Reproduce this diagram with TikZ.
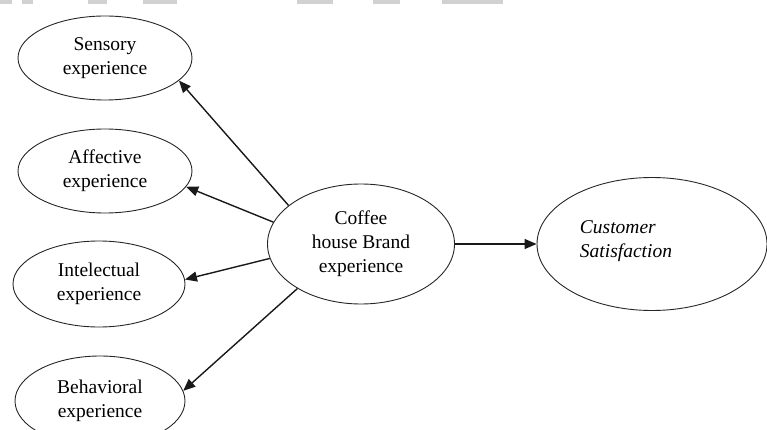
\documentclass[tikz,border=0pt]{standalone}
\usepackage{fontspec}
\setmainfont{Liberation Serif}
\usetikzlibrary{shapes.geometric,arrows.meta}

\tikzset{
  oval/.style={ellipse, draw=black!85, line width=0.9pt, inner sep=0pt,
    align=center, font=\fontsize{19.5}{24}\selectfont},
  link/.style={line width=1.4pt, draw=black!90,
    -{Triangle[length=12pt,width=10pt]}},
  smudge/.style={fill=black!18, draw=none}
}

\begin{document}
\begin{tikzpicture}[x=1pt,y=-1pt]
  \useasboundingbox (0,0) rectangle (767,430);

  % faint grey fragments along the top edge
  \fill[smudge] (0,0) rectangle (12,4.5);
  \fill[smudge] (22,0) rectangle (33,4.5);
  \fill[smudge] (88,0) rectangle (107,4.5);
  \fill[smudge] (143,0) rectangle (177,4.5);
  \fill[smudge] (297,0) rectangle (333,4.5);
  \fill[smudge] (373,0) rectangle (400,4.5);
  \fill[smudge] (442,0) rectangle (503,4.5);

  % dimension ovals
  \node[oval, minimum width=174pt, minimum height=84pt] (sens) at (105,58)
    {Sensory\\experience};
  \node[oval, minimum width=174pt, minimum height=84pt] (affe) at (105,171)
    {Affective\\experience};
  \node[oval, minimum width=172pt, minimum height=86pt] (inte) at (99,284)
    {Intelectual\\experience};
  \node[oval, minimum width=170pt, minimum height=90pt] (beha) at (100,401)
    {Behavioral\\experience};

  % central construct
  \node[oval, minimum width=187pt, minimum height=120pt] (coff) at (361,244)
    {Coffee\\house Brand\\experience};

  % outcome
  \node[oval, minimum width=230pt, minimum height=133pt] (cust) at (652,244) {};
  \node[align=left, inner sep=0pt, font=\fontsize{19.5}{24}\selectfont\itshape]
    (custtext) at (626,241) {Customer\\Satisfaction};

  % connectors
  \draw[link] (coff.152.8) -- (sens.343.4);
  \draw[link] (coff.166.9) -- (affe.349.8);
  \draw[link] (coff.189.4) -- (inte.3.9);
  \draw[link] (coff.215.1) -- (beha.7.5);
  \draw[link] (coff.east) -- (cust.west);
\end{tikzpicture}
\end{document}
